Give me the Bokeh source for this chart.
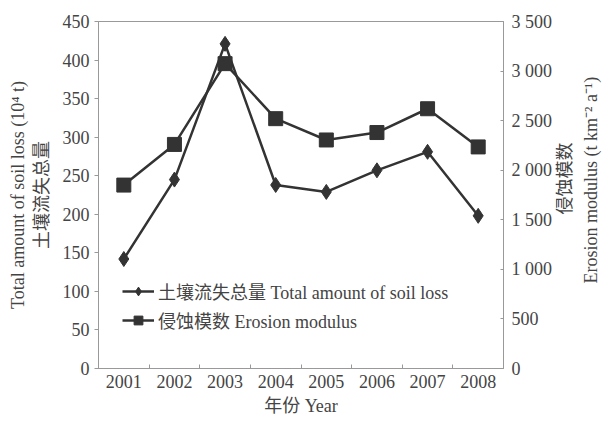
import math
from bokeh.plotting import figure
from bokeh.layouts import row
from bokeh.models import Range1d, LinearAxis, FixedTicker, Legend, LegendItem
from bokeh.core.properties import value
from bokeh.embed import file_html
from bokeh.resources import INLINE

years = [2001, 2002, 2003, 2004, 2005, 2006, 2007, 2008]
year_labels = ["2001", "2002", "2003", "2004", "2005", "2006", "2007", "2008"]
soil_loss = [142, 245, 421, 238, 229, 257, 281, 198]
erosion = [1850, 2260, 3075, 2520, 2305, 2380, 2620, 2235]
left_ticks = [0, 50, 100, 150, 200, 250, 300, 350, 400, 450]
right_ticks = [0, 500, 1000, 1500, 2000, 2500, 3000, 3500]
right_tick_labels = ["0", "500", "1 000", "1 500", "2 000", "2 500", "3 000", "3 500"]
left_title = "Total amount of soil loss (10⁴ t)\n土壤流失总量"
right_titles = ["侵蚀模数", "Erosion modulus (t km⁻² a⁻¹)"]
x_title = "年份 Year"

FONT = "'Liberation Serif', 'Noto Sans CJK SC'"
FS = "18px"
TXT = "#444444"
AX = "#999999"
LINE = "#333333"

p = figure(width=555, height=420, output_backend="svg", toolbar_location=None,
           x_range=Range1d(2000.5, 2008.5), y_range=Range1d(0, 450),
           min_border_left=98, min_border_right=50, min_border_top=21, min_border_bottom=52)
p.background_fill_color = "white"
p.outline_line_color = AX
p.outline_line_width = 1
p.grid.visible = False
p.extra_y_ranges = {"ero": Range1d(0, 3500)}

# x axis
xa = p.xaxis[0]
xa.ticker = FixedTicker(ticks=years, minor_ticks=[y + 0.5 for y in years[:-1]])
xa.major_label_overrides = {y: s for y, s in zip(years, year_labels)}
xa.major_tick_line_color = None
xa.major_tick_in = 0
xa.major_tick_out = 0
xa.minor_tick_in = 4
xa.minor_tick_out = 0
xa.minor_tick_line_color = AX
xa.axis_line_color = AX
xa.axis_label = x_title
xa.axis_label_standoff = 5
xa.major_label_standoff = 6

# left axis
ya = p.yaxis[0]
ya.ticker = FixedTicker(ticks=left_ticks)
ya.major_tick_in = 0
ya.major_tick_out = 4
ya.minor_tick_line_color = None
ya.major_tick_line_color = AX
ya.axis_line_color = AX
ya.axis_label = left_title
ya.axis_label_standoff = 8
ya.major_label_standoff = 5

# right axis with ticks
ra = LinearAxis(y_range_name="ero", ticker=FixedTicker(ticks=right_ticks))
ra.major_label_overrides = {t: s for t, s in zip(right_ticks, right_tick_labels)}
ra.major_tick_in = 3
ra.major_tick_out = 0
ra.minor_tick_line_color = None
ra.major_tick_line_color = AX
ra.axis_line_color = AX
ra.major_label_standoff = 8
p.add_layout(ra, "right")

for ax in [xa, ya, ra]:
    ax.major_label_text_font = FONT
    ax.major_label_text_font_size = FS
    ax.major_label_text_color = TXT
    ax.axis_label_text_font = FONT
    ax.axis_label_text_font_size = FS
    ax.axis_label_text_font_style = "normal"
    ax.axis_label_text_color = TXT

l1 = p.line(years, soil_loss, line_color=LINE, line_width=2.5)
s1 = p.scatter(years, soil_loss, marker="diamond", size=15, fill_color=LINE, line_color=LINE)
l2 = p.line(years, erosion, line_color=LINE, line_width=2.5, y_range_name="ero")
s2 = p.scatter(years, erosion, marker="square", size=14, fill_color=LINE, line_color=LINE, y_range_name="ero")

legend = Legend(items=[
    LegendItem(label="土壤流失总量 Total amount of soil loss", renderers=[l1, s1]),
    LegendItem(label="侵蚀模数 Erosion modulus", renderers=[l2, s2]),
], location=(24, 35))
legend.border_line_color = None
legend.background_fill_alpha = 0
legend.padding = 0
legend.spacing = 3
legend.label_height = 22
legend.glyph_height = 22
legend.glyph_width = 32
legend.label_standoff = 4
legend.label_text_font = FONT
legend.label_text_font_size = FS
legend.label_text_color = TXT
p.add_layout(legend, "center")

# right-hand axis title strip (text reads bottom-to-top like the reference)
p2 = figure(width=50, height=420, output_backend="svg", toolbar_location=None,
            x_range=Range1d(0, 50), y_range=Range1d(0, 420),
            x_axis_type=None, y_axis_type=None, min_border=0)
p2.outline_line_color = None
p2.grid.visible = False
p2.text(x=[9, 35], y=[230, 228], text=right_titles, angle=math.pi / 2,
        text_align="center", text_baseline="middle", text_font=value(FONT),
        text_font_size=FS, text_color=TXT)

layout = row(p, p2, spacing=0)
open("out.html", "w").write(file_html(layout, INLINE))
